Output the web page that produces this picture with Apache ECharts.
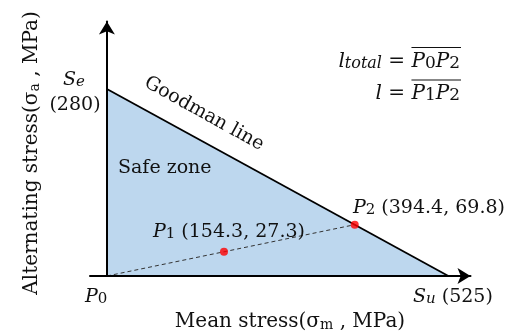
<!DOCTYPE html>
<html>
<head>
<meta charset="utf-8">
<script src="https://cdn.jsdelivr.net/npm/echarts@6/dist/echarts.min.js"></script>
<style>html,body{margin:0;padding:0;background:#fff}#c{width:512px;height:333px}</style>
</head>
<body>
<div id="c"></div>
<script>
// Goodman line end points (Se on the y axis, Su on the x axis)
const goodmanLine = [[0, 280], [525, 0]];
// Points as placed in the (schematic) picture
const pointNames = ['P1', 'P2'];
const pointValues = [[180, 36.3], [381, 76.8]];
const pointLabels = ['(154.3, 27.3)', '(394.4, 69.8)'];
// Load line from origin P0 through P1 to P2
const loadLine = [[0, 0], [381, 76.8]];
const axisRangeX = [-26, 559];
const axisRangeY = [0, 381];

const FONT = 'DejaVu Serif';
const FS = 19, SS = 15;
function mk(fs, italic, lh) {
  return {fontFamily: FONT, fontSize: fs, fontStyle: italic ? 'italic' : 'normal', color: '#111', lineHeight: lh, verticalAlign: 'bottom'};
}
const rich = {
  n: mk(FS, false, 23), i: mk(FS, true, 23),
  s: mk(SS, false, 11), si: mk(SS, true, 11),
  an: mk(20, false, 24), as: mk(14, false, 11),
  fn: mk(20, false, 24), fi: mk(20, true, 24),
  fs: mk(17, false, 12), fsi: mk(16, true, 12)
};
function txt(x, y, text, align, extra) {
  return Object.assign({
    type: 'text', x: x, y: y, z: 10,
    style: {text: text, rich: rich, align: align || 'left', verticalAlign: 'middle', fill: '#111'}
  }, extra || {});
}
// measure widths to place overlines
const mctx = document.createElement('canvas').getContext('2d');
function w(str, fs, italic) {
  mctx.font = (italic ? 'italic ' : '') + fs + 'px "' + FONT + '"';
  return mctx.measureText(str).width;
}
const barW = w('P', 20, true) * 2 + w('0', 17, false) + w('2', 17, false);
const RX = 460;

const chart = echarts.init(document.getElementById('c'), null, {renderer: 'canvas'});
const axisCommon = {
  type: 'value', z: 5,
  splitLine: {show: false}, axisTick: {show: false}, axisLabel: {show: false},
  axisLine: {show: true, onZero: true, symbol: ['none', 'arrow'], symbolSize: [12, 13],
    lineStyle: {color: '#000', width: 2}}
};
chart.setOption({
  animation: false,
  grid: {left: 90, right: 41.5, top: 21.5, bottom: 57},
  xAxis: Object.assign({}, axisCommon, {min: axisRangeX[0], max: axisRangeX[1]}),
  yAxis: Object.assign({}, axisCommon, {min: axisRangeY[0], max: axisRangeY[1]}),
  series: [
    {
      type: 'line', data: goodmanLine, symbol: 'none', z: 2,
      lineStyle: {color: '#000', width: 1.8},
      areaStyle: {color: '#bdd7ee', opacity: 1}
    },
    {
      type: 'line', data: loadLine, symbol: 'none', z: 3,
      lineStyle: {color: '#333', width: 1, type: [4, 3]}
    },
    {
      type: 'scatter', z: 4, symbolSize: 8,
      itemStyle: {color: '#ff0000'},
      data: pointValues.map((v, k) => ({name: pointNames[k], value: v}))
    }
  ],
  graphic: [
    txt(63, 78, '{i|S}{si|e}'),
    txt(75, 103, '{n|(280)}', 'center'),
    txt(205, 112, '{n|Goodman line}', 'center', {rotation: -29 * Math.PI / 180}),
    txt(118, 166, '{n|Safe zone}'),
    txt(153, 230, '{i|P}{s|1}{n| ' + pointLabels[0] + '}'),
    txt(353, 206, '{i|P}{s|2}{n| ' + pointLabels[1] + '}'),
    txt(85, 295, '{i|P}{s|0}'),
    txt(413, 295, '{i|S}{si|u}{n| (525)}'),
    txt(290, 320, '{an|Mean stress(σ}{as|m}{an| , MPa)}', 'center'),
    txt(30, 153, '{an|Alternating stress(σ}{as|a}{an| , MPa)}', 'center', {rotation: Math.PI / 2}),
    txt(RX, 60, '{fi|l}{fsi|total}{fn| = }{fi|P}{fs|0}{fi|P}{fs|2}', 'right'),
    txt(RX, 92, '{fi|l}{fn| = }{fi|P}{fs|1}{fi|P}{fs|2}', 'right'),
    {type: 'line', z: 10, shape: {x1: RX - barW, y1: 47.5, x2: RX + 1, y2: 47.5}, style: {stroke: '#111', lineWidth: 1.2}},
    {type: 'line', z: 10, shape: {x1: RX - barW, y1: 80, x2: RX + 1, y2: 80}, style: {stroke: '#111', lineWidth: 1.2}}
  ]
});
</script>
</body>
</html>
